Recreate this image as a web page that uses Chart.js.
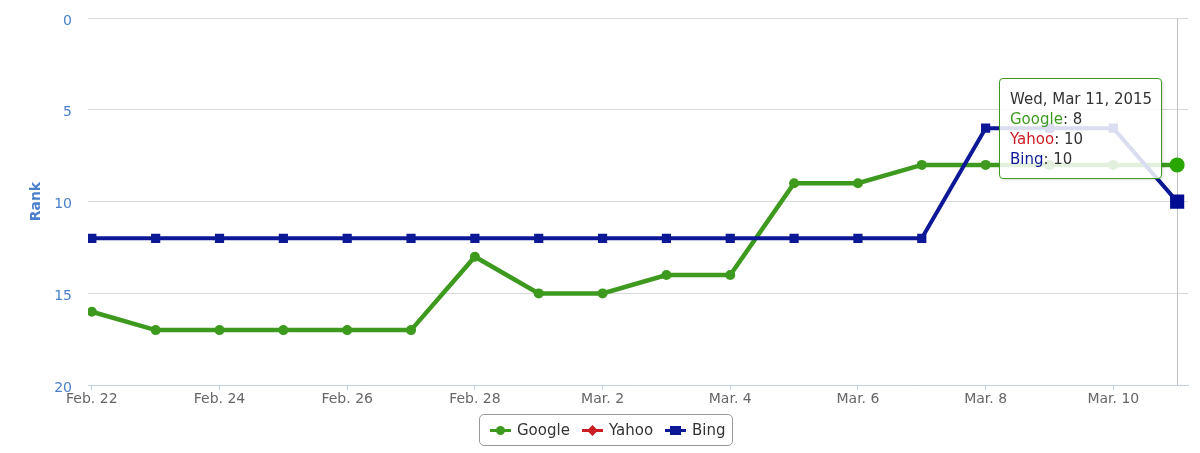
<!DOCTYPE html>
<html>
<head>
<meta charset="utf-8">
<script src="https://cdn.jsdelivr.net/npm/chart.js@4.4.1/dist/chart.umd.min.js"></script>
<style>
    html, body { margin: 0; padding: 0; background: #fff; }
    #wrap { position: relative; width: 1200px; height: 453px; font-family: 'DejaVu Sans', sans-serif; }
    #legend {
        position: absolute; left: 479px; top: 414px; height: 30px; width: 252px;
        border: 1px solid #999; border-radius: 5px; box-sizing: content-box;
        display: flex; align-items: center; padding-left: 0;
    }
    .item { display: flex; align-items: center; margin-left: 10px; margin-right: 2px; font-size: 15px; color: #333; }
    .sym { position: relative; width: 21px; height: 12px; margin-right: 6px; }
    .sym .ln { position: absolute; left: 0; right: 0; top: 5px; height: 3px; }
    .sym .mk { position: absolute; left: 6px; top: 2px; width: 9px; height: 9px; }
    #tip {
        position: absolute; box-sizing: border-box; width: 163px; padding: 10px 10px 9px 10px;
        background: rgba(255, 255, 255, 0.85); border: 1px solid; border-radius: 4px;
        box-shadow: 1px 1px 3px rgba(0, 0, 0, 0.15);
        font-size: 15px; line-height: 20px; color: #333; white-space: nowrap;
    }
</style>
</head>
<body>
<div id="wrap">
    <canvas id="rankChart" width="1200" height="453"></canvas>
    <div id="legend"></div>
    <div id="tip"></div>
</div>
<script>
// data
const days = ['2015-02-22', '2015-02-23', '2015-02-24', '2015-02-25', '2015-02-26', '2015-02-27', '2015-02-28',
    '2015-03-01', '2015-03-02', '2015-03-03', '2015-03-04', '2015-03-05', '2015-03-06', '2015-03-07',
    '2015-03-08', '2015-03-09', '2015-03-10', '2015-03-11'];
const google = [16, 17, 17, 17, 17, 17, 13, 15, 15, 14, 14, 9, 9, 8, 8, 8, 8, 8];
const yahoo = [null, null, null, null, null, null, null, null, null, null, null, null, null, null, null, null, null, 10];
const bing = [12, 12, 12, 12, 12, 12, 12, 12, 12, 12, 12, 12, 12, 12, 6, 6, 6, 10];
const rankTicks = [0, 5, 10, 15, 20];
const hoverIndex = 17;

const seriesNames = ['Google', 'Yahoo', 'Bing'];
const seriesColors = ['#3d9a1e', '#cc1c24', '#0c1896'];

const monthsDot = ['Jan.', 'Feb.', 'Mar.', 'Apr.', 'May', 'Jun.', 'Jul.', 'Aug.', 'Sep.', 'Oct.', 'Nov.', 'Dec.'];
const monthsShort = ['Jan', 'Feb', 'Mar', 'Apr', 'May', 'Jun', 'Jul', 'Aug', 'Sep', 'Oct', 'Nov', 'Dec'];
const weekDays = ['Sun', 'Mon', 'Tue', 'Wed', 'Thu', 'Fri', 'Sat'];

function parseDay(s) {
    const p = s.split('-').map(Number);
    return new Date(Date.UTC(p[0], p[1] - 1, p[2]));
}
function axisLabel(s) {
    const d = parseDay(s);
    return monthsDot[d.getUTCMonth()] + ' ' + d.getUTCDate();
}
function tipTitle(s) {
    const d = parseDay(s);
    return weekDays[d.getUTCDay()] + ', ' + monthsShort[d.getUTCMonth()] + ' ' + d.getUTCDate() + ', ' + d.getUTCFullYear();
}
const toPoints = arr => arr.map((v, i) => ({ x: i, y: v }));

const crosshair = {
    id: 'crosshair',
    beforeDatasetsDraw(chart) {
        const act = chart.getActiveElements();
        if (!act.length) return;
        const x = Math.round(act[0].element.x) + 0.5;
        const { top, bottom } = chart.chartArea;
        const ctx = chart.ctx;
        ctx.save();
        ctx.strokeStyle = '#c0c0c0';
        ctx.lineWidth = 1;
        ctx.beginPath();
        ctx.moveTo(x, top);
        ctx.lineTo(x, bottom);
        ctx.stroke();
        ctx.restore();
    }
};

const ctx = document.getElementById('rankChart').getContext('2d');
const chart = new Chart(ctx, {
    type: 'line',
    data: {
        datasets: [
            {
                label: 'Google', data: toPoints(google), order: 3,
                borderColor: seriesColors[0], backgroundColor: seriesColors[0],
                borderWidth: 4.5, pointStyle: 'circle', pointRadius: 5, pointHoverRadius: 7.5,
                pointBorderWidth: 0, pointHoverBorderWidth: 0, tension: 0
            },
            {
                label: 'Yahoo', data: toPoints(yahoo), order: 2,
                borderColor: seriesColors[1], backgroundColor: seriesColors[1],
                borderWidth: 4, pointStyle: 'rectRot', pointRadius: 5, pointHoverRadius: 7,
                pointBorderWidth: 0, pointHoverBorderWidth: 0, tension: 0
            },
            {
                label: 'Bing', data: toPoints(bing), order: 1,
                borderColor: seriesColors[2], backgroundColor: seriesColors[2],
                borderWidth: 4, pointStyle: 'rect', pointRadius: 6.5, pointHoverRadius: 10,
                pointBorderWidth: 0, pointHoverBorderWidth: 0, tension: 0
            }
        ]
    },
    options: {
        responsive: false,
        animation: false,
        events: [],
        layout: { padding: { top: 18, right: 12, bottom: 44, left: 28 } },
        plugins: {
            legend: { display: false },
            tooltip: { enabled: false }
        },
        scales: {
            x: {
                type: 'linear',
                min: -0.06,
                max: 17.17,
                border: { color: '#c0d0e0', width: 1 },
                grid: { drawOnChartArea: false, tickLength: 5, color: '#c0d0e0' },
                ticks: {
                    stepSize: 2, includeBounds: false, padding: 1, maxRotation: 0, autoSkip: false,
                    color: '#666', font: { family: 'DejaVu Sans', size: 14 },
                    callback: v => (days[v] ? axisLabel(days[v]) : '')
                }
            },
            y: {
                reverse: true,
                min: rankTicks[0],
                max: rankTicks[rankTicks.length - 1],
                border: { display: false },
                grid: {
                    drawTicks: true, tickLength: 13, tickColor: 'rgba(0,0,0,0)',
                    color: c => (c.tick.value === 20 ? 'rgba(0,0,0,0)' : '#d8d8d8')
                },
                ticks: {
                    stepSize: 5, padding: 3, labelOffset: 3,
                    color: '#4a7fcc', font: { family: 'DejaVu Sans', size: 14 }
                },
                title: {
                    display: true, text: 'Rank', color: '#4a7fcc',
                    font: { family: 'DejaVu Sans', size: 14, weight: 'bold' },
                    padding: { top: 0, bottom: 0 }
                },
                afterFit: s => { s.width = 60; }
            }
        }
    },
    plugins: [crosshair]
});

chart.setActiveElements(seriesNames.map((n, i) => ({ datasetIndex: i, index: hoverIndex })));
chart.render();

// legend
const legend = document.getElementById('legend');
const markerCss = [
    'border-radius:50%;',
    'transform:rotate(45deg) scale(0.85);',
    'left:5px;width:11px;'
];
seriesNames.forEach((name, i) => {
    const item = document.createElement('div');
    item.className = 'item';
    item.innerHTML = '<span class="sym"><span class="ln" style="background:' + seriesColors[i] + '"></span>' +
        '<span class="mk" style="background:' + seriesColors[i] + ';' + markerCss[i] + '"></span></span>' + name;
    legend.appendChild(item);
});

// tooltip
const tip = document.getElementById('tip');
const values = [google, yahoo, bing];
let html = '<div>' + tipTitle(days[hoverIndex]) + '</div>';
seriesNames.forEach((name, i) => {
    html += '<div><span style="color:' + seriesColors[i] + '">' + name + '</span>: ' + values[i][hoverIndex] + '</div>';
});
tip.innerHTML = html;
tip.style.borderColor = seriesColors[0];
const tx = chart.scales.x.getPixelForValue(hoverIndex);
tip.style.left = Math.round(tx - 178) + 'px';
tip.style.top = Math.round(chart.chartArea.top + 60) + 'px';
</script>
</body>
</html>
